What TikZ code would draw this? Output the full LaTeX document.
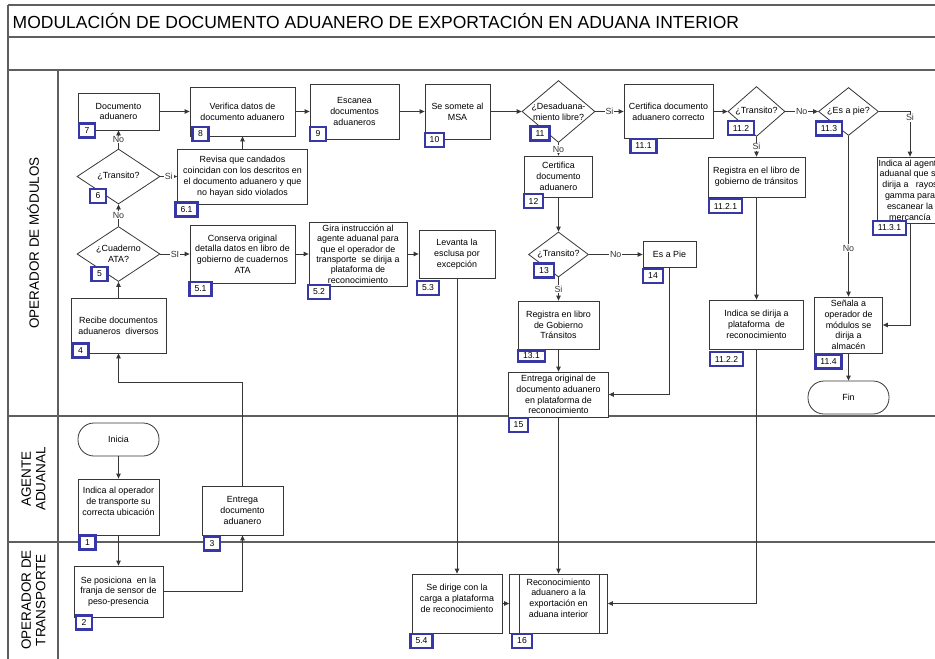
\documentclass[tikz,border=0pt]{standalone}
\usepackage{fontspec}
\setmainfont{Liberation Sans}
\usetikzlibrary{shapes.geometric,arrows.meta}
\definecolor{linec}{RGB}{55,55,55}
\definecolor{lanec}{RGB}{95,95,95}
\definecolor{badge}{RGB}{55,55,165}
\tikzset{
    >={Triangle[length=5pt,width=4.5pt]},
    every edge/.style={draw,->,linec}
}

\begin{document}
\begin{tikzpicture}[x=1pt,y=-1pt,line width=0.8pt,
    proc/.style={rectangle,draw=linec,fill=white,align=center,inner sep=0.5pt,
                 font=\fontsize{8.9}{10.8}\selectfont},
    decision/.style={diamond,draw=linec,fill=white,align=center,inner sep=-3pt,
                 font=\fontsize{8.9}{10.8}\selectfont},
    term/.style={rectangle,rounded corners=16pt,draw=linec,fill=white,
                 minimum width=81pt,minimum height=33pt,font=\fontsize{8.9}{10.8}\selectfont},
    num/.style={rectangle,draw=badge,line width=2.4pt,fill=white,inner xsep=5pt,inner ysep=2pt,
                minimum width=16pt,minimum height=14pt,font=\fontsize{8.6}{9}\selectfont},
    lbl/.style={fill=white,inner sep=0.8pt,font=\fontsize{8.9}{10}\selectfont},
    lane/.style={rotate=90,align=center,font=\fontsize{13.5}{14.5}\selectfont}]

\useasboundingbox (0,0) rectangle (935,659);
\clip (0,0) rectangle (935,659);

% Lanes
\draw[lanec,line width=1.4pt] (8,5) -- (935,5) (8,37) -- (935,37) (8,70) -- (935,70)
    (8,416) -- (935,416) (8,542) -- (935,542) (8,5) -- (8,659) (58,70) -- (58,659);
\node[anchor=west,font=\fontsize{17.5}{19}\selectfont] (title) at (9,21)
    {MODULACIÓN DE DOCUMENTO ADUANERO DE EXPORTACIÓN EN ADUANA INTERIOR};
\node[lane] (lmod) at (33,243) {OPERADOR DE MÓDULOS};
\node[lane] (lage) at (33.5,479) {AGENTE\\ADUANAL};
\node[lane] (ltra) at (33.5,600) {OPERADOR DE\\TRANSPORTE};

% Operador de modulos
\node[proc,minimum width=81pt,minimum height=37pt] (n7) at (118.5,111.5) {Documento\\aduanero};
\node[proc,minimum width=105pt,minimum height=49pt] (n8) at (242.5,111.5) {Verifica datos de\\documento aduanero};
\node[proc,minimum width=89pt,minimum height=55pt] (n9) at (354.5,111.5) {Escanea\\documentos\\aduaneros};
\node[proc,minimum width=65pt,minimum height=55pt] (n10) at (457.5,111.5) {Se somete al\\MSA};
\node[decision,minimum width=73pt,minimum height=62pt] (n11) at (558.5,111.5) {¿Desaduana-\\miento libre?};
\node[proc,minimum width=89pt,minimum height=54pt] (n111) at (668.5,111.5) {Certifica documento\\aduanero correcto};
\node[decision,minimum width=57pt,minimum height=50pt] (n112) at (756.5,111.5) {¿Transito?};
\node[decision,minimum width=60pt,minimum height=48pt] (n113) at (848.5,111.5) {¿Es a pie?};
\node[proc,minimum width=66pt,minimum height=66pt] (n1131) at (910,190)
    {Indica al agente\\aduanal que se\\dirija a \ \ rayos\\gamma para\\escanear la\\mercancía};
\node[proc,minimum width=97pt,minimum height=40pt] (n1121) at (756.5,177) {Registra en el libro de\\gobierno de tránsitos};
\node[proc,minimum width=94pt,minimum height=49pt] (n1122) at (756.5,324.5) {Indica se dirija a\\plataforma \ de\\reconocimiento};
\node[proc,minimum width=68pt,minimum height=56pt] (n114) at (848.5,325) {Señala a\\operador de\\módulos se\\dirija a\\almacén};
\node[term] (fin) at (848.5,397.5) {Fin};
\node[proc,minimum width=68pt,minimum height=41pt] (n12) at (558.5,176.5) {Certifica\\documento\\aduanero};
\node[decision,minimum width=60pt,minimum height=45pt] (n13) at (558.5,254.5) {¿Transito?};
\node[proc,minimum width=53pt,minimum height=26pt] (n14) at (669.5,254.5) {Es a Pie};
\node[proc,minimum width=81pt,minimum height=48pt] (n131) at (558.5,325) {Registra en libro\\de Gobierno\\Tránsitos};
\node[proc,minimum width=100pt,minimum height=45pt] (n15) at (558.5,394.5) {Entrega original de\\documento aduanero\\en plataforma de\\reconocimiento};
\node[decision,minimum width=83pt,minimum height=55pt] (n6) at (118.5,176.5) {¿Transito?};
\node[proc,minimum width=130pt,minimum height=55pt] (n61) at (242.5,176.5)
    {Revisa que candados\\coincidan con los descritos en\\el documento aduanero y que\\no hayan sido violados};
\node[decision,minimum width=83pt,minimum height=55pt] (n5) at (118.5,254) {¿Cuaderno\\ATA?};
\node[proc,minimum width=105pt,minimum height=58pt] (n51) at (242.5,254)
    {Conserva original\\detalla datos en libro de\\gobierno de cuadernos\\ATA};
\node[proc,minimum width=98pt,minimum height=64pt,inner sep=0pt,font=\fontsize{8.9}{10.4}\selectfont] (n52) at (358,254)
    {Gira instrucción al\\agente aduanal para\\que el operador de\\transporte \ se dirija a\\plataforma de\\reconocimiento};
\node[proc,minimum width=76pt,minimum height=48pt] (n53) at (457,254) {Levanta la\\esclusa por\\excepción};
\node[proc,minimum width=95pt,minimum height=55pt] (n4) at (118.5,325.5) {Recibe documentos\\aduaneros \ diversos};

% Agente aduanal
\node[term] (start) at (118.5,439.5) {Inicia};
\node[proc,minimum width=81pt,minimum height=56pt,text depth=12pt] (n1) at (118.5,507)
    {Indica al operador\\de transporte su\\correcta ubicación};
\node[proc,minimum width=81pt,minimum height=49pt] (n3) at (242.5,510.5) {Entrega\\documento\\aduanero};

% Operador de transporte
\node[proc,minimum width=89pt,minimum height=51pt] (n2) at (118.5,591.5)
    {Se posiciona \ en la\\franja de sensor de\\peso-presencia};
\node[proc,minimum width=90pt,minimum height=59pt,text depth=11pt] (n54) at (457,603.5)
    {Se dirige con la\\carga a plataforma\\de reconocimiento};
\node[proc,minimum width=98pt,minimum height=59pt,text depth=11pt] (n16) at (558.5,603.5)
    {Reconocimiento\\aduanero a la\\exportación en\\aduana interior};
\draw[linec] ([xshift=10pt]n16.north west) -- ([xshift=10pt]n16.south west)
    ([xshift=-9pt]n16.north east) -- ([xshift=-9pt]n16.south east);

% Transitions
\path (n7) edge (n8);
\path (n8) edge (n9);
\path (n9) edge (n10);
\path (n10) edge (n11);
\path (n11) edge node[lbl] {Si} (n111);
\path (n111) edge (n112);
\path (n112) edge node[lbl] {No} (n113);
\path (n112) edge node[lbl] {Si} (n1121);
\path (n1121) edge (n1122);
\path (n113) edge node[lbl,pos=0.7] {No} (n114);
\path (n114) edge (fin);
\path (n11) edge node[lbl] {No} (n12);
\path (n12) edge (n13);
\path (n13) edge node[lbl] {No} (n14);
\path (n13) edge node[lbl] {Si} (n131);
\path (n131) edge (n15);
\path (n15) edge (n16);
\path (n6) edge node[lbl] {No} (n7);
\path (n6) edge node[lbl] {Si} (n61);
\path (n61) edge (n8);
\path (n5) edge node[lbl] {No} (n6);
\path (n5) edge node[lbl] {SI} (n51);
\path (n51) edge (n52);
\path (n52) edge (n53);
\path (n53) edge (n54);
\path (n54) edge (n16);
\path (n4) edge (n5);
\path (start) edge (n1);
\path (n1) edge (n2);
\draw[->,linec] (n113.east) -| node[lbl,pos=0.57] {Si} (n1131.north);
\draw[->,linec] (n1131.south) |- (n114.east);
\draw[->,linec] (n1122.south) |- (n16.east);
\draw[->,linec] (n14.south) |- (n15.east);
\draw[->,linec] (n2.east) -| (n3.south);
\coordinate (c34) at (118.5,382);
\draw[->,linec] (n3.north) |- (c34) -- (n4.south);

% Numbers
\node[num] (b7) at (87,130.5) {7};
\node[num] (b8) at (200.5,134) {8};
\node[num] (b9) at (318,134) {9};
\node[num] (b10) at (434.5,140) {10};
\node[num] (b11) at (540,133.5) {11};
\node[num] (b111) at (643.5,146) {11.1};
\node[num] (b112) at (741,128) {11.2};
\node[num] (b113) at (829,128.5) {11.3};
\node[num] (b1131) at (889.5,228) {11.3.1};
\node[num] (b1121) at (725.5,206) {11.2.1};
\node[num] (b1122) at (726.5,359) {11.2.2};
\node[num] (b114) at (828.5,361.5) {11.4};
\node[num] (b12) at (533.5,201) {12};
\node[num] (b13) at (544,270.5) {13};
\node[num] (b14) at (653,276) {14};
\node[num,minimum height=11pt,inner ysep=0.5pt] (b131) at (531.5,356) {13.1};
\node[num] (b15) at (518.5,425) {15};
\node[num] (b16) at (522,641) {16};
\node[num] (b54) at (421.5,641) {5.4};
\node[num] (b53) at (428,288) {5.3};
\node[num] (b52) at (319,292) {5.2};
\node[num] (b51) at (200.5,289) {5.1};
\node[num] (b6) at (98,196) {6};
\node[num] (b61) at (186.5,209.5) {6.1};
\node[num] (b5) at (99.5,274) {5};
\node[num] (b4) at (80.5,350.5) {4};
\node[num] (b1) at (87.5,542.5) {1};
\node[num] (b3) at (212,543.5) {3};
\node[num] (b2) at (84,622.5) {2};

\end{tikzpicture}
\end{document}
